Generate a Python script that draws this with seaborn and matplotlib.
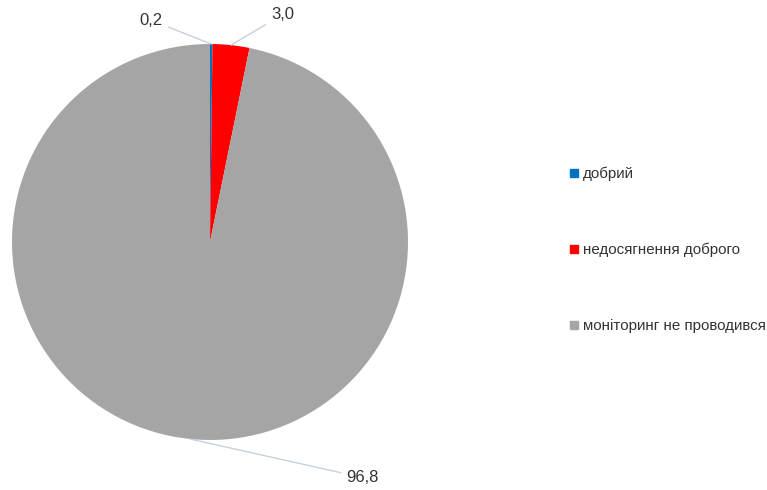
import numpy as np
import seaborn as sns
import matplotlib
matplotlib.use('Agg')
import matplotlib.pyplot as plt
from matplotlib.lines import Line2D

# Data
categories = ['добрий', 'недосягнення доброго', 'моніторинг не проводився']
values = [0.2, 3.0, 96.8]
value_labels = ['0,2', '3,0', '96,8']
colors = ['#0070C0', '#FF0000', '#A5A5A5']

sns.set_style('white')
plt.rcParams['font.family'] = ['Liberation Sans', 'DejaVu Sans']

fig = plt.figure(figsize=(7.67, 4.9), dpi=100)
ax = fig.add_axes([12 / 767, 50 / 490, 396 / 767, 396 / 490])

wedges, _ = ax.pie(values, colors=colors, startangle=90, counterclock=False,
                   radius=1, wedgeprops={'linewidth': 0})
ax.set_xlim(-1, 1)
ax.set_ylim(-1, 1)
ax.set_aspect('equal')
ax.axis('off')

# Data labels with leader lines
label_pos = [(-0.24, 1.12), (0.31, 1.15), (0.69, -1.19)]
label_ha = ['right', 'left', 'left']
for w, txt, pos, ha in zip(wedges, value_labels, label_pos, label_ha):
    ang = np.deg2rad((w.theta1 + w.theta2) / 2)
    edge = (np.cos(ang), np.sin(ang))
    ax.annotate(txt, xy=edge, xytext=pos, ha=ha, va='center',
                fontsize=12, color='#333333', annotation_clip=False,
                arrowprops=dict(arrowstyle='-', color='#C5D0DE', lw=1,
                                shrinkA=2, shrinkB=0))

# Legend
handles = [Line2D([0], [0], marker='s', color='none', markerfacecolor=c,
                  markeredgecolor=c, markersize=6) for c in colors]
fig.legend(handles, categories, loc='center left',
           bbox_to_anchor=(563 / 767, 1 - 250 / 490), frameon=False,
           fontsize=10.9, labelcolor='#333333', handlelength=0.6,
           handletextpad=0.3, labelspacing=4.1, borderaxespad=0)

fig.savefig('out.png', dpi=100)
